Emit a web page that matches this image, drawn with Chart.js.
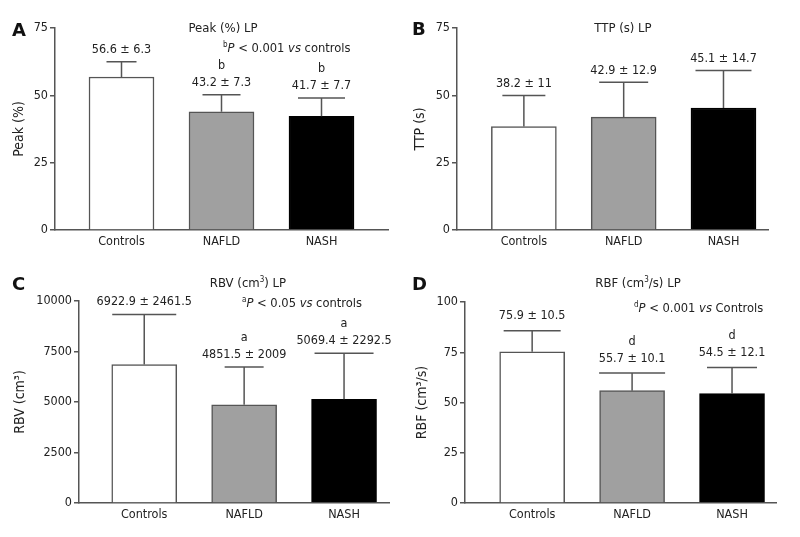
<!DOCTYPE html>
<html>
<head>
<meta charset="UTF-8">
<title>LP perfusion</title>
<script src="https://cdn.jsdelivr.net/npm/chart.js@4.4.1/dist/chart.umd.min.js"></script>
<style>
    body{margin:0;background:#fff;}
    #wrap{position:relative;width:800px;height:537px;overflow:hidden;
        font-family:"DejaVu Sans Condensed","DejaVu Sans",sans-serif;color:#222;font-size:12.8px;}
    .panel{position:absolute;width:400px;}
    .txt{position:absolute;white-space:nowrap;transform:translate(-50%,-50%);font-size:13px;}
    .note{position:absolute;white-space:nowrap;transform:translate(0,-50%);}
    .letter{position:absolute;font-family:"DejaVu Sans",sans-serif;font-weight:bold;font-size:18px;color:#111;transform:translate(0,-50%);}
    sup{font-size:8px;vertical-align:5px;line-height:0;}
</style>
</head>
<body>
<div id="wrap">
    <div class="panel" style="left:0;top:0;height:268px"><canvas id="cA" width="400" height="268"></canvas></div>
    <div class="panel" style="left:400px;top:0;height:268px"><canvas id="cB" width="400" height="268"></canvas></div>
    <div class="panel" style="left:0;top:268px;height:269px"><canvas id="cC" width="400" height="269"></canvas></div>
    <div class="panel" style="left:400px;top:268px;height:269px"><canvas id="cD" width="400" height="269"></canvas></div>

    <div class="letter" style="left:12px;top:29px">A</div>
    <div class="letter" style="left:412px;top:28px">B</div>
    <div class="letter" style="left:12px;top:283px">C</div>
    <div class="letter" style="left:412px;top:283px">D</div>

    <div class="txt" style="left:223px;top:27px">Peak (%) LP</div>
    <div class="txt" style="left:623px;top:27px">TTP (s) LP</div>
    <div class="txt" style="left:248px;top:282px">RBV (cm<sup>3</sup>) LP</div>
    <div class="txt" style="left:638px;top:282px">RBF (cm<sup>3</sup>/s) LP</div>

    <div class="note" style="left:223px;top:47px"><sup>b</sup><i>P</i> &lt; 0.001 <i>vs</i> controls</div>
    <div class="note" style="left:242px;top:302px"><sup>a</sup><i>P</i> &lt; 0.05 <i>vs</i> controls</div>
    <div class="note" style="left:634px;top:307px"><sup>d</sup><i>P</i> &lt; 0.001 <i>vs</i> Controls</div>
</div>

<script>
    const categories = ["Controls", "NAFLD", "NASH"];
    const fills = ["#ffffff", "#a0a0a0", "#000000"];

    // bar heights and top of the error bar
    const peakBars = [56.8, 43.9, 42.2];
    const peakUpper = [62.5, 50.2, 49.0];
    const peakText = ["56.6 ± 6.3", "43.2 ± 7.3", "41.7 ± 7.7"];
    const peakMarks = ["", "b", "b"];

    const ttpBars = [38.4, 41.9, 45.3];
    const ttpUpper = [49.9, 54.9, 59.2];
    const ttpText = ["38.2 ± 11", "42.9 ± 12.9", "45.1 ± 14.7"];
    const ttpMarks = ["", "", ""];

    const rbvBars = [6852, 4866, 5134];
    const rbvUpper = [9335, 6738, 7418];
    const rbvText = ["6922.9 ± 2461.5", "4851.5 ± 2009", "5069.4 ± 2292.5"];
    const rbvMarks = ["", "a", "a"];

    const rbfBars = [75.2, 55.9, 54.4];
    const rbfUpper = [85.7, 64.7, 67.4];
    const rbfText = ["75.9 ± 10.5", "55.7 ± 10.1", "54.5 ± 12.1"];
    const rbfMarks = ["", "d", "d"];

    const FONT = '"DejaVu Sans Condensed", "DejaVu Sans", sans-serif';
    Chart.defaults.font.family = FONT;
    Chart.defaults.font.size = 12.5;
    Chart.defaults.color = "#222";

    const errorBars = {
        id: "errorBars",
        afterDatasetsDraw(chart, args, opts) {
            const {ctx} = chart;
            const y = chart.scales.y;
            const meta = chart.getDatasetMeta(0);
            ctx.save();
            ctx.strokeStyle = "#555";
            ctx.lineWidth = 1.5;
            ctx.font = "12.5px " + FONT;
            ctx.fillStyle = "#222";
            ctx.textAlign = "center";
            ctx.textBaseline = "middle";
            meta.data.forEach((bar, i) => {
                const top = y.getPixelForValue(opts.upper[i]);
                const half = opts.caps[i] / 2;
                ctx.beginPath();
                ctx.moveTo(bar.x, bar.y);
                ctx.lineTo(bar.x, top);
                ctx.moveTo(bar.x - half, top);
                ctx.lineTo(bar.x + half, top);
                ctx.stroke();
                ctx.fillText(opts.text[i], bar.x, top - opts.gap);
                if (opts.marks[i]) ctx.fillText(opts.marks[i], bar.x, top - opts.gap - 17);
            });
            ctx.restore();
        }
    };

    function makePanel(id, p) {
        const H = document.getElementById(id).height;
        return new Chart(document.getElementById(id), {
            type: "bar",
            data: {
                datasets: [{
                    data: p.bars.map((v, i) => ({x: i, y: v})),
                    backgroundColor: fills,
                    borderColor: ["#555", "#555", "#000"],
                    borderWidth: 1.5,
                    barThickness: 65
                }]
            },
            options: {
                responsive: false,
                animation: false,
                events: [],
                layout: {padding: {left: 0, top: p.top, right: 400 - p.axisEnd, bottom: 0}},
                plugins: {
                    legend: {display: false},
                    tooltip: {enabled: false},
                    errorBars: {upper: p.upper, text: p.text, marks: p.marks, gap: p.gap, caps: p.caps}
                },
                scales: {
                    x: {
                        type: "linear",
                        offset: false,
                        min: p.xmin,
                        max: p.xmax,
                        afterBuildTicks: s => { s.ticks = categories.map((c, i) => ({value: i})); },
                        afterFit: s => { s.height = H - p.zero; },
                        ticks: {callback: v => categories[v], padding: 4, maxRotation: 0, autoSkip: false},
                        grid: {display: false, drawTicks: false, offset: false},
                        border: {color: "#555", width: 1.5}
                    },
                    y: {
                        min: 0,
                        max: p.max,
                        afterFit: s => { s.width = p.axisX; },
                        ticks: {stepSize: p.step, padding: 2, callback: v => String(v)},
                        grid: {drawOnChartArea: false, drawTicks: true, tickLength: 5, color: "#555", lineWidth: 1.5},
                        border: {color: "#555", width: 1.5},
                        title: {display: true, text: p.title, font: {size: 14}, padding: {top: p.titlePad, bottom: 0}}
                    }
                }
            },
            plugins: [errorBars]
        });
    }

    makePanel("cA", {bars: peakBars, upper: peakUpper, text: peakText, marks: peakMarks,
        caps: [30, 38, 47], gap: 12, max: 75, step: 25, title: "Peak (%)", titlePad: 10.5,
        axisX: 55, axisEnd: 388, top: 28, zero: 230, xmin: -0.665, xmax: 2.665});
    makePanel("cB", {bars: ttpBars, upper: ttpUpper, text: ttpText, marks: ttpMarks,
        caps: [43, 49, 56], gap: 11.5, max: 75, step: 25, title: "TTP (s)", titlePad: 11.5,
        axisX: 57, axisEnd: 368, top: 28, zero: 230, xmin: -0.67, xmax: 2.446});
    makePanel("cC", {bars: rbvBars, upper: rbvUpper, text: rbvText, marks: rbvMarks,
        caps: [64, 39, 59], gap: 12.5, max: 10000, step: 2500, title: "RBV (cm³)", titlePad: 11.5,
        axisX: 79, axisEnd: 389, top: 33, zero: 235, xmin: -0.653, xmax: 2.45});
    makePanel("cD", {bars: rbfBars, upper: rbfUpper, text: rbfText, marks: rbfMarks,
        caps: [57, 66, 50], gap: 14.5, max: 100, step: 25, title: "RBF (cm³/s)", titlePad: 14,
        axisX: 65, axisEnd: 376, top: 34, zero: 235, xmin: -0.672, xmax: 2.44});
</script>
</body>
</html>
